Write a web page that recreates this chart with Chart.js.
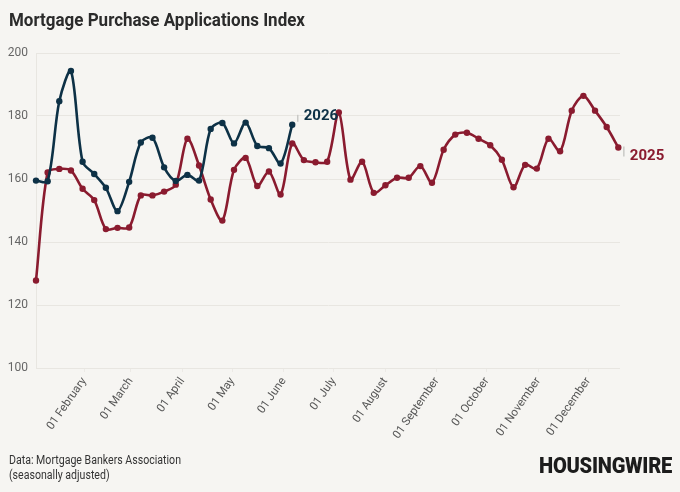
<!DOCTYPE html>
<html>
<head>
<meta charset="utf-8">
<script src="https://cdn.jsdelivr.net/npm/chart.js@4.4.1/dist/chart.umd.min.js"></script>
<style>
  html, body { margin:0; padding:0; background:#f6f5f2; }
  body { width:680px; height:492px; position:relative; overflow:hidden; font-family: Roboto, 'Noto Sans', sans-serif; }
  #c { position:absolute; left:0; top:0; z-index:1; }
  .txt { position:absolute; white-space:nowrap; transform-origin:0 0; display:inline-block; z-index:2; }
  #title { left:9px; top:10px; font-size:19px; font-weight:700; color:#2b2b2b; line-height:1; }
  #src { left:9px; top:453px; font-size:12px; color:#333; line-height:15px; }
  #brand { left:539px; top:454px; font-size:22.5px; font-weight:900; color:#1c1c1c; line-height:1; letter-spacing:-0.3px; }
</style>
</head>
<body>
<canvas id="c" width="680" height="492"></canvas>
<div id="title" class="txt">Mortgage Purchase Applications Index</div>
<div id="src" class="txt"><span id="src1">Data: Mortgage Bankers Association</span><br><span>(seasonally adjusted)</span></div>
<div id="brand" class="txt">HOUSINGWIRE</div>
<script>
// ---- data ----
const seriesNames = ['2026', '2025'];
const values2026 = [159.5, 159.3, 184.7, 194.3, 165.5, 161.6, 157.2, 149.8, 159.1, 171.6,
  173.1, 163.7, 159.4, 161.3, 159.5, 175.9, 177.8, 171.3, 177.9, 170.5, 169.8, 164.9, 177.2];
const values2025 = [127.8, 162.1, 163.2, 162.7, 156.9, 153.3, 144.1, 144.5, 144.6, 154.8,
  154.8, 156.0, 158.2, 172.8, 164.3, 153.5, 146.8, 162.9, 166.7, 157.8, 162.4, 155.1, 171.3,
  166.0, 165.3, 165.5, 181.1, 159.8, 165.5, 155.6, 158.0, 160.4, 160.4, 164.1, 158.8, 169.3,
  174.1, 174.7, 172.8, 170.7, 166.1, 157.4, 164.5, 163.3, 172.8, 168.8, 181.7, 186.4, 181.7,
  176.5, 170.0];
const monthLabels = ['01 February','01 March','01 April','01 May','01 June','01 July',
  '01 August','01 September','01 October','01 November','01 December'];
const monthStartDays = [31, 59, 90, 120, 151, 181, 212, 243, 273, 304, 334]; // day of year (Jan 1 = 0)
const yTickValues = [100, 120, 140, 160, 180, 200];
const firstWeekDay = 2;   // first weekly observation (Jan 3 = day 2)
const weekStep = 7;

function toPoints(vals) {
  return vals.map((v, i) => ({ x: firstWeekDay + i * weekStep, y: v }));
}

const NAVY = '#0d3146';
const RED = '#8a1b2f';

const labelOffsets = {
  '2026': { dy: -8.5, t1: -10, t2: -3 },
  '2025': { dy: 8.5, t1: -1, t2: 9 }
};

const seriesLabelPlugin = {
  id: 'seriesLabels',
  afterDatasetsDraw(chart) {
    const ctx = chart.ctx;
    chart.data.datasets.forEach((ds, i) => {
      const meta = chart.getDatasetMeta(i);
      const p = meta.data[meta.data.length - 1];
      const o = labelOffsets[ds.label];
      ctx.save();
      ctx.strokeStyle = '#c9c9c6';
      ctx.lineWidth = 1.5;
      ctx.beginPath();
      ctx.moveTo(p.x + 5.5, p.y + o.t1);
      ctx.lineTo(p.x + 5.5, p.y + o.t2);
      ctx.stroke();
      ctx.font = 'bold 15px Roboto';
      ctx.fillStyle = ds.borderColor;
      ctx.textBaseline = 'middle';
      ctx.textAlign = 'left';
      ctx.fillText(ds.label, p.x + 11.5, p.y + o.dy);
      ctx.restore();
    });
  }
};

Chart.defaults.font.family = 'Roboto, "Noto Sans", sans-serif';

new Chart(document.getElementById('c'), {
  type: 'line',
  data: {
    datasets: [
      { label: seriesNames[0], data: toPoints(values2026), borderColor: NAVY, backgroundColor: NAVY,
        borderWidth: 2.6, pointRadius: 3.2, pointBackgroundColor: NAVY, pointBorderWidth: 0, tension: 0.3, clip: false },
      { label: seriesNames[1], data: toPoints(values2025), borderColor: RED, backgroundColor: RED,
        borderWidth: 2.6, pointRadius: 3.2, pointBackgroundColor: RED, pointBorderWidth: 0, tension: 0.3, clip: false }
    ]
  },
  options: {
    responsive: false,
    animation: false,
    layout: { padding: { top: 53, left: 0, right: 60, bottom: 0 } },
    plugins: { legend: { display: false }, tooltip: { enabled: false }, title: { display: false } },
    scales: {
      x: {
        type: 'linear',
        min: firstWeekDay,
        max: 353,
        afterBuildTicks(scale) { scale.ticks = monthStartDays.map(d => ({ value: d })); },
        afterFit(scale) { scale.height = 124; },
        ticks: {
          autoSkip: false,
          minRotation: 55,
          maxRotation: 55,
          padding: 3,
          color: '#555',
          font: { size: 11.5 },
          callback: (v, i) => monthLabels[i]
        },
        grid: { display: true, drawOnChartArea: false, drawTicks: true, tickLength: 4, color: '#eceae6' },
        border: { display: false }
      },
      y: {
        min: 100,
        max: 200,
        afterBuildTicks(scale) { scale.ticks = yTickValues.map(v => ({ value: v })); },
        afterFit(scale) { scale.width = 36; },
        ticks: { color: '#666', font: { size: 12 }, padding: 8 },
        grid: { color: '#e8e6e1', lineWidth: 1, drawTicks: false },
        border: { display: true, color: '#e8e6e1' }
      }
    }
  },
  plugins: [seriesLabelPlugin]
});

function fitWidth(el, target, ref) {
  const w = (ref || el).getBoundingClientRect().width;
  if (w > 0) el.style.transform = 'scaleX(' + (target / w) + ')';
}
fitWidth(document.getElementById('title'), 296);
fitWidth(document.getElementById('src'), 172, document.getElementById('src1'));
fitWidth(document.getElementById('brand'), 133);
</script>
</body>
</html>
